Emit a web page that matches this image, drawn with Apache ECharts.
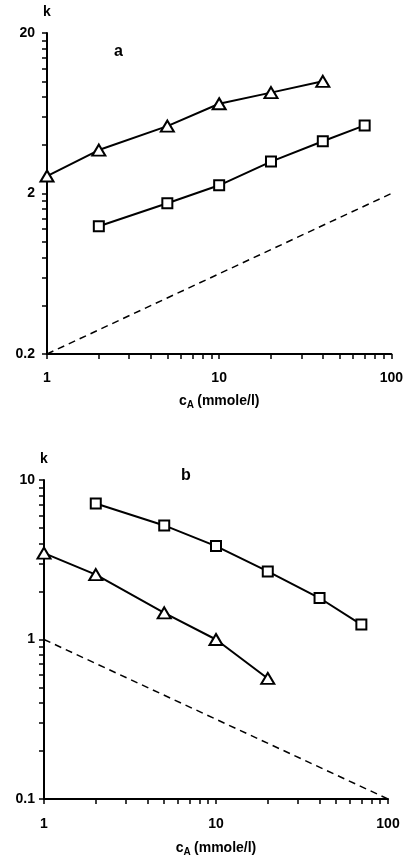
<!DOCTYPE html>
<html>
<head>
<meta charset="utf-8">
<script src="https://cdn.jsdelivr.net/npm/echarts@6/dist/echarts.min.js"></script>
<style>
  html, body { margin: 0; padding: 0; background: #fff; }
  #chart { width: 406px; height: 858px; }
</style>
</head>
<body>
<div id="chart"></div>
<script>
// Panel a: k against concentration c_A (log-log)
const aTriConc = [1, 2, 5, 10, 20, 40];
const aTriK    = [2.57, 3.73, 5.26, 7.25, 8.5, 10.0];
const aSqConc  = [2, 5, 10, 20, 40, 70];
const aSqK     = [1.25, 1.74, 2.25, 3.16, 4.23, 5.31];
const aRefConc = [1, 100];
const aRefK    = [0.2, 2];

// Panel b
const bSqConc  = [2, 5, 10, 20, 40, 70];
const bSqK     = [7.13, 5.19, 3.85, 2.67, 1.82, 1.24];
const bTriConc = [1, 2, 5, 10, 20];
const bTriK    = [3.48, 2.55, 1.47, 1.0, 0.57];
const bRefConc = [1, 100];
const bRefK    = [1, 0.1];

// Axis ticks and labels
const concTicks  = [1, 2, 3, 4, 5, 6, 7, 8, 9, 10, 20, 30, 40, 50, 60, 70, 80, 90, 100];
const concLabels = [1, 10, 100];
const aKTicks  = [0.2, 0.4, 0.6, 0.8, 1, 1.2, 1.4, 1.6, 1.8, 2, 4, 6, 8, 10, 12, 14, 16, 18, 20];
const aKLabels = [0.2, 2, 20];
const bKTicks  = [0.1, 0.2, 0.3, 0.4, 0.5, 0.6, 0.7, 0.8, 0.9, 1, 2, 3, 4, 5, 6, 7, 8, 9, 10];
const bKLabels = [0.1, 1, 10];

const FONT = '"Liberation Sans", Arial, sans-serif';
const ink = '#000';

const pairs = (xs, ys) => xs.map((x, i) => [x, ys[i]]);

function xAxisFor(gridIndex, labelMargin, nameGap) {
  return {
    type: 'log', logBase: 10, gridIndex, min: 1, max: 100,
    axisLine: { lineStyle: { color: ink, width: 2 } },
    axisTick: { show: true, inside: false, length: 5, lineStyle: { color: ink, width: 1.5 }, customValues: concTicks },
    axisLabel: { customValues: concLabels, color: ink, fontFamily: FONT, fontWeight: 'bold', fontSize: 14, margin: labelMargin },
    splitLine: { show: false },
    minorTick: { show: false },
    name: '{c|c}{s|A} {t|(mmole/l)}',
    nameLocation: 'middle', nameGap,
    nameTextStyle: {
      color: ink, fontFamily: FONT, fontWeight: 'bold',
      rich: {
        c: { fontSize: 14, fontWeight: 'bold', fontFamily: FONT, color: ink },
        s: { fontSize: 10, fontWeight: 'bold', fontFamily: FONT, color: ink, padding: [8, 0, 0, 0] },
        t: { fontSize: 14, fontWeight: 'bold', fontFamily: FONT, color: ink }
      }
    }
  };
}

function yAxisFor(gridIndex, min, max, ticks, labels, labelMargin, nameGap) {
  return {
    type: 'log', logBase: 10, gridIndex, min, max,
    axisLine: { lineStyle: { color: ink, width: 2 } },
    axisTick: { show: true, inside: false, length: 5, lineStyle: { color: ink, width: 1.5 }, customValues: ticks },
    axisLabel: { customValues: labels, color: ink, fontFamily: FONT, fontWeight: 'bold', fontSize: 14, margin: labelMargin },
    splitLine: { show: false },
    minorTick: { show: false },
    name: 'k', nameLocation: 'end', nameGap,
    nameTextStyle: { color: ink, fontFamily: FONT, fontWeight: 'bold', fontSize: 14 }
  };
}

const solid = (name, data, symbol, size, xi) => ({
  name, type: 'line', xAxisIndex: xi, yAxisIndex: xi, data,
  symbol, symbolSize: size, showAllSymbol: true,
  lineStyle: { color: ink, width: 2 },
  itemStyle: { color: '#fff', borderColor: ink, borderWidth: 2 },
  z: 3, animation: false
});

const dashed = (name, data, xi) => ({
  name, type: 'line', xAxisIndex: xi, yAxisIndex: xi, data,
  symbol: 'none',
  lineStyle: { color: ink, width: 1.5, type: [7, 5] },
  z: 2, animation: false
});

const chart = echarts.init(document.getElementById('chart'));
chart.setOption({
  backgroundColor: '#fff',
  animation: false,
  title: [
    { text: 'a', left: 109, top: 39, textStyle: { fontFamily: FONT, fontWeight: 'bold', fontSize: 16, color: ink } },
    { text: 'b', left: 176, top: 463, textStyle: { fontFamily: FONT, fontWeight: 'bold', fontSize: 16, color: ink } }
  ],
  grid: [
    { left: 47, top: 33, width: 345, height: 321 },
    { left: 44, top: 480, width: 344, height: 323 }
  ],
  xAxis: [ xAxisFor(0, 17, 38), xAxisFor(1, 18, 40) ],
  yAxis: [
    yAxisFor(0, 0.2, 20, aKTicks, aKLabels, 12, 14),
    yAxisFor(1, 0.1, 10, bKTicks, bKLabels, 9, 14)
  ],
  series: [
    solid('a-triangles', pairs(aTriConc, aTriK), 'triangle', [13, 11], 0),
    solid('a-squares', pairs(aSqConc, aSqK), 'rect', 10, 0),
    dashed('a-reference', pairs(aRefConc, aRefK), 0),
    solid('b-squares', pairs(bSqConc, bSqK), 'rect', 10, 1),
    solid('b-triangles', pairs(bTriConc, bTriK), 'triangle', [13, 11], 1),
    dashed('b-reference', pairs(bRefConc, bRefK), 1)
  ]
});
</script>
</body>
</html>
